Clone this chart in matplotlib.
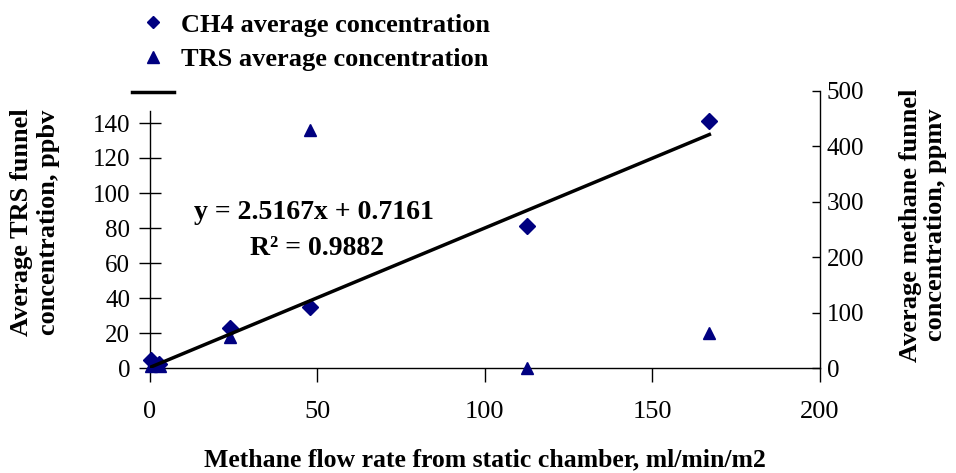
import matplotlib
matplotlib.use("Agg")
import matplotlib.pyplot as plt
from matplotlib.lines import Line2D
import numpy as np

# Data
flow_rate = [0.3, 2.7, 24, 48, 112.5, 167]           # ml/min/m2
ch4_conc = [14, 8, 73, 110, 256, 446]                 # ppmv (right axis)
trs_flow = [0.3, 1.2, 3.0, 24, 48, 112.5, 167]
trs_conc = [1, 2, 1, 18, 136, 0, 20]                  # ppbv (left axis)
slope, intercept = 2.5167, 0.7161
x_ticks = [0, 50, 100, 150, 200]
left_ticks = [0, 20, 40, 60, 80, 100, 120, 140]
right_ticks = [0, 100, 200, 300, 400, 500]

plt.rcParams['font.family'] = ['Liberation Serif', 'DejaVu Serif']
navy = '#000080'

W, H = 956, 473
fig = plt.figure(figsize=(W / 100, H / 100), dpi=100)
x0, x1 = 149.5, 820
y0, y1 = 368, 90.7
ax = fig.add_axes([x0 / W, 1 - y0 / H, (x1 - x0) / W, (y0 - y1) / H])
ax2 = ax.twinx()

ax.set_xlim(0, 200)
left_top = (y0 - y1) / 1.75
ax.set_ylim(0, left_top)
ax2.set_ylim(0, 500)

ax.plot(trs_flow, trs_conc, linestyle='none', marker='^', markersize=9,
        color=navy, clip_on=False, zorder=3)
ax2.plot(flow_rate, ch4_conc, linestyle='none', marker='D', markersize=8,
         color=navy, clip_on=False, zorder=3)
xl = np.array([0, max(flow_rate)])
ax2.plot(xl, slope * xl + intercept, color='black', linewidth=2.5, zorder=4)

for a in (ax, ax2):
    a.spines['top'].set_visible(False)
    a.patch.set_visible(False)
ax.spines['right'].set_visible(False)
ax2.spines['left'].set_visible(False)
ax2.spines['bottom'].set_visible(False)
ax.spines['left'].set_bounds(0, 147)
for s in ('left', 'bottom'):
    ax.spines[s].set_linewidth(1.0)
ax2.spines['right'].set_linewidth(1.0)

ax.set_xticks(x_ticks)
ax.set_yticks(left_ticks)
ax2.set_yticks(right_ticks)
ax.tick_params(axis='x', direction='out', length=10, width=1, labelsize=19, pad=14)
ax.tick_params(axis='y', direction='inout', length=16, width=1, labelsize=18, pad=6)
ax2.tick_params(axis='y', direction='in', length=6, width=1, labelsize=18, pad=5)

fig.text((x0 + x1) / 2 / W, 1 - 466 / H,
         'Methane flow rate from static chamber, ml/min/m2',
         ha='center', va='baseline', fontsize=18.5, fontweight='bold')
fig.text(35 / W, 1 - 222 / H, 'Average TRS funnel\nconcentration, ppbv',
         rotation=90, ha='center', va='center', fontsize=19,
         fontweight='bold', linespacing=1.2)
fig.text(923 / W, 1 - 225 / H, 'Average methane funnel\nconcentration, ppmv',
         rotation=90, ha='center', va='center', fontsize=19,
         fontweight='bold', linespacing=1.15)

ax.text(49, 89, 'y = 2.5167x + 0.7161', fontsize=20, fontweight='bold',
        ha='center', va='center')
ax.text(50, 68.5, 'R² = 0.9882', fontsize=20, fontweight='bold',
        ha='center', va='center')

handles = [
    Line2D([], [], linestyle='none', marker='D', markersize=6, color=navy),
    Line2D([], [], linestyle='none', marker='^', markersize=8, color=navy),
    Line2D([], [], color='black', linewidth=2.5),
]
labels = ['CH4 average concentration', 'TRS average concentration', '']
leg = fig.legend(handles, labels, loc='upper left',
                 bbox_to_anchor=(119 / W, 1 - 0 / H), frameon=False,
                 prop={'size': 19, 'weight': 'bold'}, handlelength=1.6,
                 handletextpad=0.25, labelspacing=0.42, borderpad=0)

fig.savefig('out.png', dpi=100)
